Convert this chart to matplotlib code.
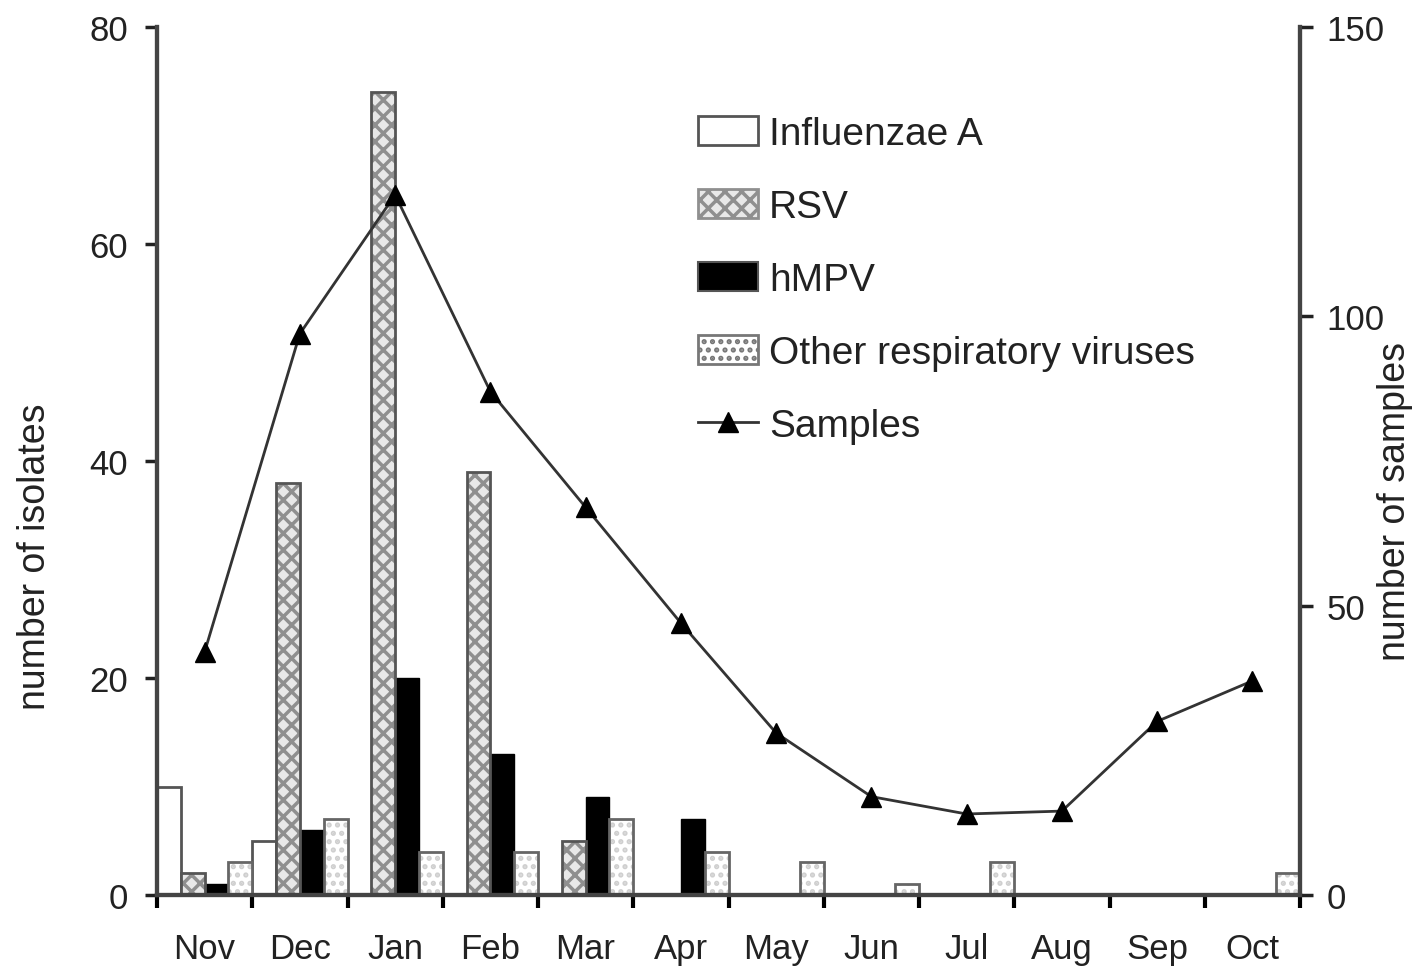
import matplotlib
matplotlib.use("Agg")
import matplotlib.pyplot as plt
from matplotlib.patches import Patch
import numpy as np

months = ["Nov", "Dec", "Jan", "Feb", "Mar", "Apr", "May", "Jun", "Jul", "Aug", "Sep", "Oct"]
influenza_a = [10, 5, 0, 0, 0, 0, 0, 0, 0, 0, 0, 0]
rsv = [2, 38, 74, 39, 5, 0, 0, 0, 0, 0, 0, 0]
hmpv = [1, 6, 20, 13, 9, 7, 0, 0, 0, 0, 0, 0]
other = [3, 7, 4, 4, 7, 4, 3, 1, 3, 0, 0, 2]
samples = [42, 97, 121, 87, 67, 47, 28, 17, 14, 14.5, 30, 37]

plt.rcParams["font.family"] = ["Liberation Sans", "DejaVu Sans"]
plt.rcParams["hatch.linewidth"] = 2.5

fig = plt.figure(figsize=(14.16, 9.70), dpi=100)
ax = fig.add_axes([157 / 1416, 74 / 970, (1300 - 157) / 1416, (896 - 28) / 970])
ax2 = ax.twinx()

x = np.arange(len(months))
w = 0.25
edge = "#555555"
rsv_face = "#e8e8e8"
rsv_hatch = "#8f8f8f"
oth_hatch = "#cfcfcf"

ax.bar(x - 1.5 * w, influenza_a, w, color="white", edgecolor=edge, linewidth=2, zorder=2)
ax.bar(x - 0.5 * w, rsv, w, color=rsv_face, edgecolor=rsv_hatch, linewidth=0, hatch="xx", zorder=2)
ax.bar(x - 0.5 * w, rsv, w, fill=False, edgecolor=edge, linewidth=2, zorder=3)
ax.bar(x + 0.5 * w, hmpv, w, color="black", edgecolor="black", linewidth=1, zorder=2)
ax.bar(x + 1.5 * w, other, w, color="white", edgecolor=oth_hatch, linewidth=0, hatch="..", zorder=2)
ax.bar(x + 1.5 * w, other, w, fill=False, edgecolor="#666666", linewidth=2, zorder=3)

ax.set_xlim(-0.5, len(months) - 0.5)
ax.set_ylim(0, 80)
ax2.set_ylim(0, 150)

line, = ax2.plot(x, samples, color="#333333", linewidth=2, marker="^", markersize=15,
                 markerfacecolor="black", markeredgecolor="black", zorder=4)

ax.set_yticks([0, 20, 40, 60, 80])
ax2.set_yticks([0, 50, 100, 150])
ax.set_xticks(x)
ax.set_xticklabels(months)
ax.set_xticks(np.arange(-0.5, len(months)), minor=True)
ax.tick_params(axis="x", which="major", length=0, labelsize=25, pad=27, colors="#222222")
ax.tick_params(axis="x", which="minor", length=9, width=3, color="black")
ax.tick_params(axis="y", length=9, width=2.5, labelsize=25, pad=12, colors="#222222")
ax2.tick_params(axis="y", length=9, width=2.5, labelsize=25, pad=10, colors="#222222")

for a in (ax, ax2):
    a.spines["top"].set_visible(False)
    for s in ("left", "right", "bottom"):
        a.spines[s].set_color("#444444")
        a.spines[s].set_linewidth(3)

ax.set_ylabel("number of isolates", fontsize=27, color="#222222", va="center")
ax.yaxis.set_label_coords((35 - 157) / 1143, (896 - 557) / 868)
ax2.set_ylabel("number of samples", fontsize=27, color="#222222", va="center")
ax2.yaxis.set_label_coords((1395 - 157) / 1143, (896 - 502) / 868)

handles = [
    Patch(facecolor="white", edgecolor=edge, linewidth=2),
    Patch(facecolor=rsv_face, edgecolor=rsv_hatch, hatch="xx", linewidth=2),
    Patch(facecolor="black", edgecolor=edge, linewidth=1.5),
    Patch(facecolor="white", edgecolor="#777777", hatch="..", linewidth=2),
    line,
]
labels = ["Influenzae A", "RSV", "hMPV", "Other respiratory viruses", "Samples"]
leg = fig.legend(handles, labels, loc="upper left", bbox_to_anchor=(698 / 1416, 1 - 117 / 970),
                 frameon=False, fontsize=28, handlelength=1.55, handleheight=0.75,
                 handletextpad=0.28, labelspacing=0.95, borderaxespad=0, borderpad=0)
for t in leg.get_texts():
    t.set_color("#222222")

fig.savefig("out.png", dpi=100)
